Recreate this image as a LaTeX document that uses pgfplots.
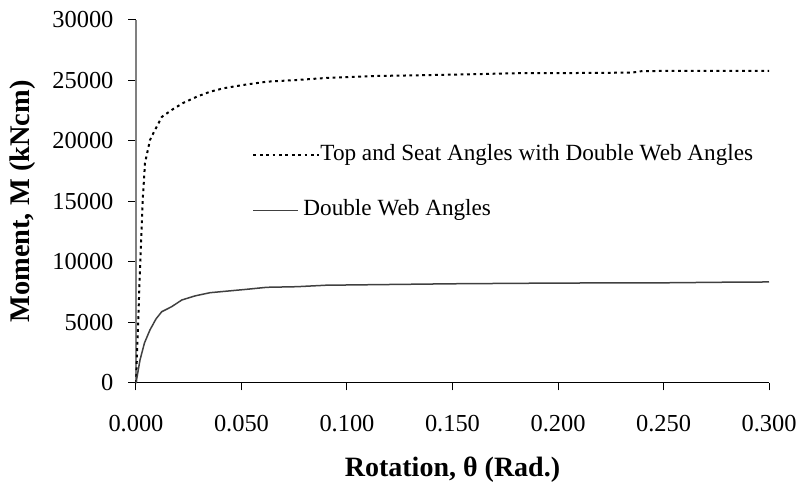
\documentclass[border=0pt]{standalone}
\usepackage{fontspec}
\setmainfont{Liberation Serif}
\usepackage{pgfplots}
\pgfplotsset{compat=1.18}
\pgfplotsset{
  longimg/.style={legend image code/.code={\draw[##1] (0pt,0pt) -- (33pt,0pt);}},
  shortimg/.style={legend image code/.code={\draw[##1] (0pt,0pt) -- (22.5pt,0pt); \path (33pt,0pt);}},
}
\begin{document}
\begin{tikzpicture}[font=\fontsize{12}{14.4}\selectfont]
\begin{axis}[
  scale only axis,
  width=316.5pt, height=181.5pt,
  xmin=0, xmax=0.3, ymin=0, ymax=30000,
  axis x line*=bottom, axis y line*=left,
  x axis line style={-, black, line width=0.5pt},
  y axis line style={-, gray, line width=0.75pt},
  tick align=outside,
  major tick length=3.75pt,
  tick style={black, line width=0.5pt},
  xtick={0,0.05,0.1,0.15,0.2,0.25,0.3},
  ytick={0,5000,10000,15000,20000,25000,30000},
  scaled y ticks=false, scaled x ticks=false,
  /pgf/number format/assume math mode=true,
  yticklabel style={/pgf/number format/1000 sep={}, font=\fontsize{12.2}{14.4}\selectfont, xshift=-4pt},
  xticklabel style={/pgf/number format/.cd, fixed, fixed zerofill, precision=3, /tikz/.cd, font=\fontsize{12.2}{14.4}\selectfont, yshift=-9pt},
  xlabel={\bfseries Rotation, θ (Rad.)},
  ylabel={\bfseries Moment, M (kNcm)},
  xlabel style={at={(rel axis cs:0.5,0)}, anchor=center, yshift=-43.5pt, font=\fontsize{14}{16}\selectfont},
  ylabel style={at={(rel axis cs:-0.1785,0.5)}, anchor=center, font=\fontsize{14.2}{16}\selectfont},
  clip=false,
  legend style={draw=none, fill=none, inner sep=0pt, row sep=16pt,
    at={(rel axis cs:0.1833,0.66)}, anchor=north west,
    font=\fontsize{11.6}{14}\selectfont,
    nodes={inner sep=0pt, text height=8.5pt, text depth=3pt},
    /tikz/every even column/.append style={column sep=2pt}},
  legend cell align=left,
]
\addplot[black, line width=1pt, dash pattern=on 1.4pt off 1.8pt, longimg]
coordinates {
(0,0) (0.00223,10990) (0.00318,15124) (0.00427,18182) (0.00664,20083)
(0.0090,20909) (0.0122,21983) (0.0169,22562) (0.0223,23140) (0.0288,23660)
(0.0351,24074) (0.0414,24355) (0.0507,24628) (0.0619,24900) (0.0762,25041)
(0.0919,25231) (0.1141,25372) (0.14,25450) (0.16,25520) (0.18,25600)
(0.21,25620) (0.235,25650) (0.24,25780) (0.27,25800) (0.30,25800)
};
\addlegendentry{Top and Seat Angles with Double Web Angles}
\addplot[color={rgb,255:red,64;green,64;blue,64}, line width=0.75pt, shortimg]
coordinates {
(0,0) (0.0019,1900) (0.004,3300) (0.0066,4380) (0.0095,5300) (0.0122,5892)
(0.0169,6306) (0.0217,6859) (0.028,7200) (0.0351,7463) (0.0525,7744)
(0.062,7909) (0.0762,7958) (0.09,8080) (0.1,8100) (0.15,8200) (0.2,8260)
(0.25,8280) (0.28,8330) (0.3,8350)
};
\addlegendentry{\hspace*{-8.5pt}Double Web Angles}
\coordinate (bl) at (rel axis cs:0,0);
\coordinate (tr) at (rel axis cs:1,1);
\end{axis}
\pgfresetboundingbox
\path[use as bounding box] ([shift={(-68pt,-51.5pt)}]bl) rectangle ([shift={(17pt,10pt)}]tr);
\end{tikzpicture}
\end{document}
